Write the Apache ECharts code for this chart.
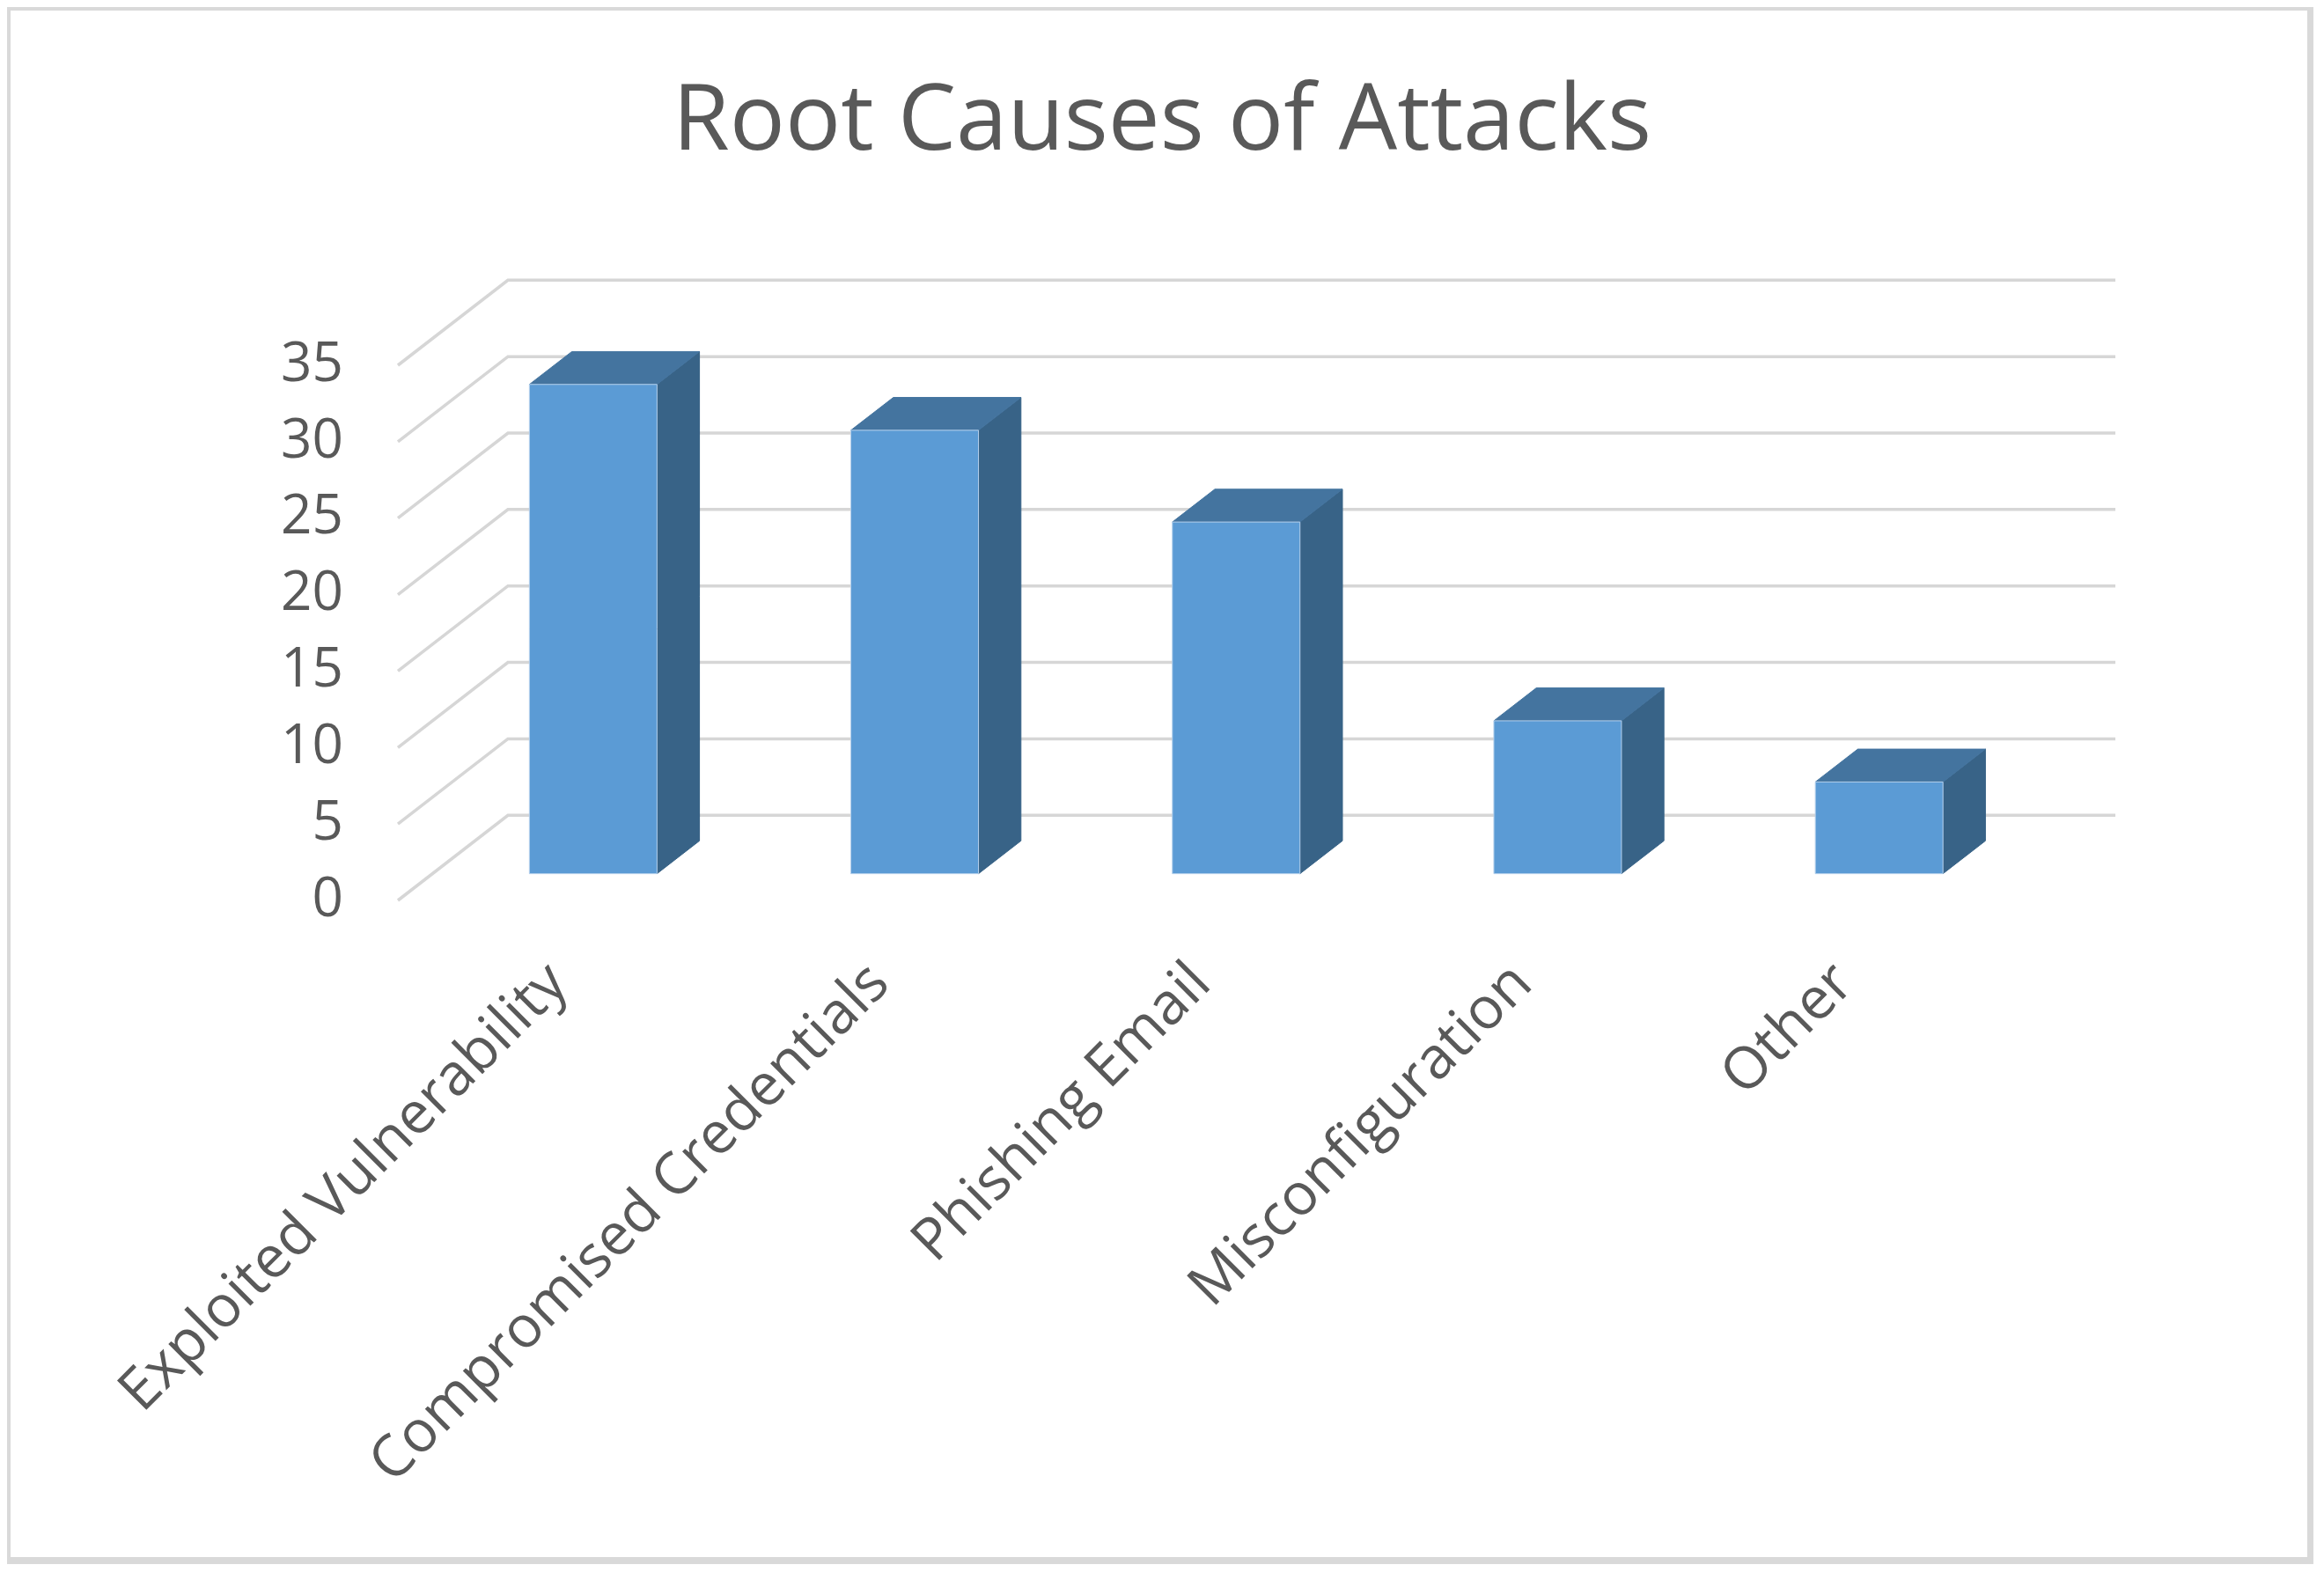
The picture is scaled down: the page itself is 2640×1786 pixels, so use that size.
<!DOCTYPE html>
<html>
<head>
<meta charset="utf-8">
<script src="https://cdn.jsdelivr.net/npm/echarts@6/dist/echarts.min.js"></script>
<style>
  html, body { margin: 0; padding: 0; background: #ffffff; }
  #chart { width: 2640px; height: 1786px; }
</style>
</head>
<body>
<div id="chart"></div>
<script>
// ---- data ----
const categories = ['Exploited Vulnerability', 'Compromised Credentials', 'Phishing Email', 'Misconfiguration', 'Other'];
const values = [32, 29, 23, 10, 6];
const yTicks = [0, 5, 10, 15, 20, 25, 30, 35];
const chartTitle = 'Root Causes of Attacks';

// ---- 3D projection styling (pixels) ----
const DX = 125, DY = -96.7;       // full depth offset of the back wall
const F0 = 0.314, F1 = 0.70;      // bar depth span (fraction of full depth)
const BAR_FRAC = 0.397;           // bar width as fraction of category band
const FONT = "'Open Sans', 'Liberation Sans', sans-serif";
const TEXT = '#595959';

const chart = echarts.init(document.getElementById('chart'), null, { renderer: 'canvas' });

function renderWall(params, api) {
  const v = api.value(1);
  const cs = params.coordSys;
  const y = api.coord([0, v])[1];
  const x0 = cs.x, x1 = cs.x + cs.width;
  return {
    type: 'polyline',
    shape: { points: [[x0, y], [x0 + DX, y + DY], [x1 + DX, y + DY]] },
    style: { stroke: '#d6d6d6', lineWidth: 3.5, fill: 'none' }
  };
}

function renderBar(params, api) {
  const idx = api.value(0);
  const v = api.value(1);
  const base = api.coord([idx, 0]);
  const top = api.coord([idx, v]);
  const band = api.size([1, 0])[0];
  const w = band * BAR_FRAC;
  const xl = base[0] - w / 2 + F0 * DX;
  const xr = base[0] + w / 2 + F0 * DX;
  const yt = top[1] + F0 * DY;
  const yb = base[1] + F0 * DY;
  const ddx = (F1 - F0) * DX, ddy = (F1 - F0) * DY;
  return {
    type: 'group',
    children: [
      {
        type: 'polygon',
        shape: { points: [[xr, yt], [xr, yb], [xr + ddx, yb + ddy], [xr + ddx, yt + ddy]] },
        style: { fill: '#386387', stroke: '#386387', lineWidth: 1 }
      },
      {
        type: 'polygon',
        shape: { points: [[xl, yt], [xr, yt], [xr + ddx, yt + ddy], [xl + ddx, yt + ddy]] },
        style: { fill: '#44749f', stroke: '#44749f', lineWidth: 1 }
      },
      {
        type: 'rect',
        shape: { x: xl, y: yt, width: xr - xl, height: yb - yt },
        style: { fill: '#5b9bd5', stroke: '#b5d0ec', lineWidth: 1 }
      }
    ]
  };
}

const option = {
  backgroundColor: '#ffffff',
  animation: false,
  title: {
    text: chartTitle,
    left: 'center',
    top: 83,
    textStyle: { fontFamily: FONT, fontSize: 105, fontWeight: 'normal', color: TEXT, lineHeight: 105 }
  },
  graphic: [
    { type: 'rect', z: -10, shape: { x: 8, y: 8, width: 2620, height: 1769 }, style: { fill: '#d9d9d9' } },
    { type: 'rect', z: -9, shape: { x: 12, y: 12, width: 2609, height: 1757 }, style: { fill: '#ffffff' } }
  ],
  grid: { left: 452, right: 362, top: 415, bottom: 763, containLabel: false },
  xAxis: {
    type: 'category',
    data: categories,
    boundaryGap: true,
    axisLine: { show: false },
    axisTick: { show: false },
    splitLine: { show: false },
    axisLabel: {
      interval: 0,
      rotate: 45,
      margin: 84,
      fontFamily: FONT,
      fontSize: 66,
      color: TEXT
    }
  },
  yAxis: {
    type: 'value',
    min: 0,
    max: 35,
    interval: 5,
    axisLine: { show: false },
    axisTick: { show: false },
    splitLine: { show: false },
    axisLabel: {
      margin: 62,
      fontFamily: FONT,
      fontSize: 62,
      color: TEXT,
      formatter: function (v) { return yTicks.indexOf(v) >= 0 ? String(v) : ''; }
    }
  },
  series: [
    {
      type: 'custom',
      name: 'walls',
      clip: false,
      silent: true,
      z: 1,
      renderItem: renderWall,
      encode: { x: 0, y: 1 },
      data: yTicks.map(function (t) { return [0, t]; })
    },
    {
      type: 'custom',
      name: 'bars',
      clip: false,
      z: 5,
      renderItem: renderBar,
      encode: { x: 0, y: 1 },
      data: values.map(function (v, i) { return [i, v]; })
    }
  ]
};

chart.setOption(option);
</script>
</body>
</html>
